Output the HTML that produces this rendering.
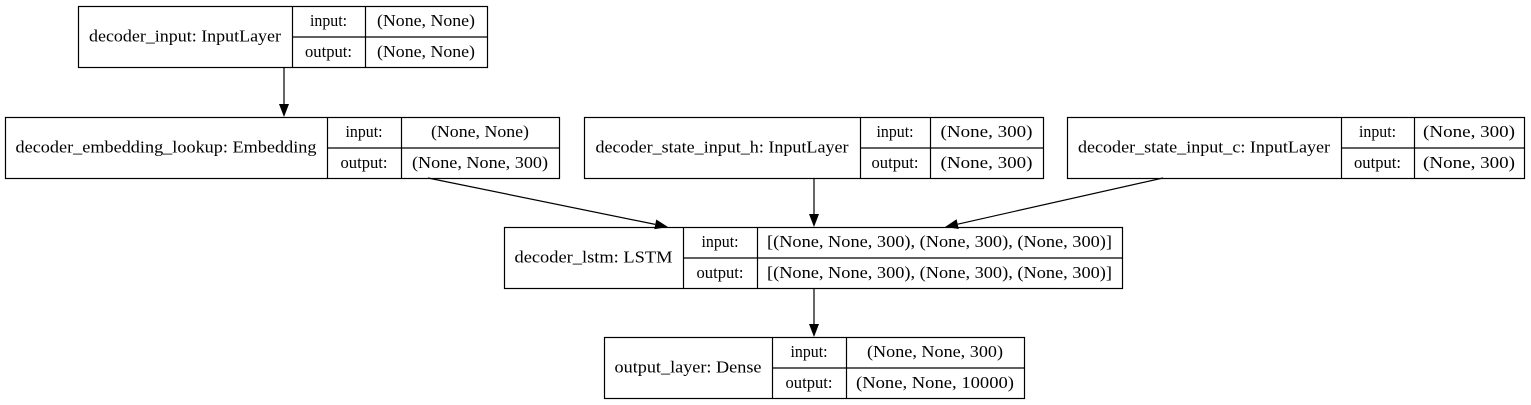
<!DOCTYPE html>
<html><head><meta charset="utf-8"><style>
html,body{margin:0;padding:0;background:#fff;}
svg{display:block;}
text{font-family:"Liberation Serif",serif;font-size:17px;fill:#000;}
</style></head><body>
<svg id="g" width="1531" height="405" viewBox="0 0 1531 405"></svg>
<script>
const NS="http://www.w3.org/2000/svg";
const svg=document.getElementById('g');
// layer nodes: [name, label, labelWidth, x, y, d1, d2, right, inShape, inW, outShape, outW]
const nodes=[
 ["decoder-input","decoder_input: InputLayer",192,78,6,292,365,487,"(None, None)",98,"(None, None)",98],
 ["decoder-embedding","decoder_embedding_lookup: Embedding",301,5,117,327,401,559,"(None, None)",98,"(None, None, 300)",136],
 ["decoder-state-h","decoder_state_input_h: InputLayer",253,584,117,860,930,1043,"(None, 300)",92,"(None, 300)",92],
 ["decoder-state-c","decoder_state_input_c: InputLayer",252,1067,117,1341,1414,1524,"(None, 300)",92,"(None, 300)",92],
 ["decoder-lstm","decoder_lstm: LSTM",158,504,227,683,757,1122,"[(None, None, 300), (None, 300), (None, 300)]",345,"[(None, None, 300), (None, 300), (None, 300)]",345],
 ["output-layer","output_layer: Dense",147,604,337,772,846,1024,"(None, None, 300)",136,"(None, None, 10000)",158]
];
const H=61;
// edges: [x1,y1,x2,y2]
const edges=[[284,67,284,117],[428,178,668,227],[814,178,814,227],[1163,178,945,227],[814,288,814,337]];
function el(t,a,p){const e=document.createElementNS(NS,t);for(const k in a)e.setAttribute(k,a[k]);(p||svg).appendChild(e);return e;}
function txt(g,x,y,s,w){const t=el('text',{x:x,y:y,'text-anchor':'middle',textLength:w,lengthAdjust:'spacingAndGlyphs'},g);t.textContent=s;return t;}
nodes.forEach(n=>{
 const [name,label,lw,x,y,d1,d2,r,iS,iW,oS,oW]=n;
 const g=el('g',{});
 
 
 const m=y+H/2;
 el('rect',{x:x+0.5,y:y+0.5,width:r-x,height:H,fill:'#fff',stroke:'#000','stroke-width':1.2},g);
 el('line',{x1:d1+0.5,y1:y,x2:d1+0.5,y2:y+H,stroke:'#000','stroke-width':1.2},g);
 el('line',{x1:d2+0.5,y1:y,x2:d2+0.5,y2:y+H,stroke:'#000','stroke-width':1.2},g);
 el('line',{x1:d1,y1:m+0.5,x2:r,y2:m+0.5,stroke:'#000','stroke-width':1.2},g);
 txt(g,(x+d1)/2,m+5,label,lw);
 txt(g,(d1+d2)/2,y+20,"input:",37);
 txt(g,(d1+d2)/2,y+51,"output:",47);
 txt(g,(d2+r)/2,y+20,iS,iW);
 txt(g,(d2+r)/2,y+51,oS,oW);
});
edges.forEach((e,i)=>{
 const [x1,y1,x2,y2]=e;
 const g=el('g',{});
 
 
 const dx=x2-x1,dy=y2-y1,L=Math.hypot(dx,dy),ux=dx/L,uy=dy/L,al=13,aw=5;
 const bx=x2-ux*al,by=y2-uy*al;
 el('line',{x1:x1,y1:y1,x2:bx,y2:by,stroke:'#000','stroke-width':1.2},g);
 el('polygon',{points:`${x2},${y2} ${bx-uy*aw},${by+ux*aw} ${bx+uy*aw},${by-ux*aw}`,fill:'#000'},g);
});
</script>
</body></html>
